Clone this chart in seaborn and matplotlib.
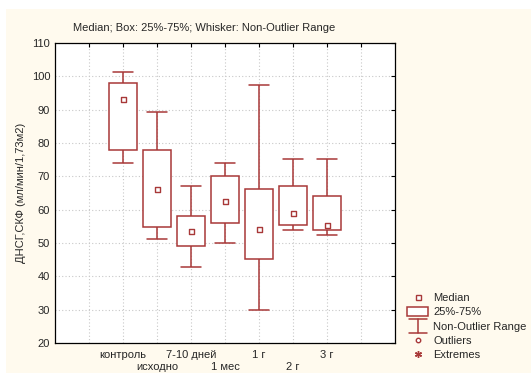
import matplotlib
matplotlib.use("Agg")
import matplotlib.pyplot as plt
import seaborn as sns
import pandas as pd
from matplotlib.lines import Line2D
from matplotlib.patches import Rectangle
from matplotlib.legend_handler import HandlerBase

# ---- data (five-number summaries) ----
categories = ["контроль", "исходно", "7-10 дней", "1 мес", "1 г", "2 г", "3 г"]
whisker_low = [74.0, 51.3, 42.9, 50.1, 30.0, 53.9, 52.3]
q1 = [78.0, 54.7, 49.1, 56.1, 45.1, 55.3, 53.9]
medians = [93.2, 66.3, 53.6, 62.7, 54.2, 59.1, 55.3]
q3 = [98.1, 78.0, 58.2, 70.1, 66.3, 67.2, 64.0]
whisker_high = [101.3, 89.3, 67.2, 74.0, 97.4, 75.3, 75.3]

title = "Median; Box: 25%-75%; Whisker: Non-Outlier Range"
ylabel = "ДНСГ,СКФ (мл/мин/1,73м2)"
legend_labels = ["Median", "25%-75%", "Non-Outlier Range", "Outliers", "Extremes"]

RED = "#A83838"
FS = 8

rows = []
for c, a, b, m, d, e in zip(categories, whisker_low, q1, medians, q3, whisker_high):
    for v in (a, b, m, d, e):
        rows.append({"group": c, "value": v})
df = pd.DataFrame(rows)
med_df = pd.DataFrame({"group": categories, "value": medians})

sns.set_style("white")
plt.rcParams["font.family"] = ["Liberation Sans", "DejaVu Sans"]

fig = plt.figure(figsize=(5.31, 3.73), dpi=100)
fig.patch.set_facecolor("white")
fig.patches.append(Rectangle((6 / 531, 0), 1, 1 - 9 / 373, transform=fig.transFigure,
                             facecolor="#FFFAEE", edgecolor="none", zorder=-10))

ax = fig.add_axes([55 / 531, 1 - 343 / 373, 340 / 531, 300 / 373])
ax.set_facecolor("white")

sns.boxplot(data=df, x="group", y="value", order=categories, whis=(0, 100),
            width=0.83, color="white", linecolor=RED, linewidth=1.1,
            medianprops={"linewidth": 0, "color": "white"},
            showfliers=False, ax=ax, capwidths=0.57)
sns.stripplot(data=med_df, x="group", y="value", order=categories, jitter=False,
              marker="s", size=3.6, color="white", edgecolor=RED, linewidth=1.0,
              ax=ax, zorder=5)

ax.set_xlim(-2, 8)
ax.set_ylim(20, 110)
ax.set_yticks(range(20, 111, 10))
ax.xaxis.remove_overlapping_locs = False
# major ticks (grid + first row of labels)
ax.set_xticks(range(-1, 8))
row1 = [""] + [c if i % 2 == 0 else "" for i, c in enumerate(categories)] + [""]
ax.set_xticklabels(row1, fontsize=FS)
# minor ticks carry the second, lower row of labels
odd_pos = [i for i in range(len(categories)) if i % 2 == 1]
ax.set_xticks(odd_pos, minor=True)
ax.set_xticklabels([categories[i] for i in odd_pos], minor=True, fontsize=FS)
ax.tick_params(axis="y", labelsize=FS)
ax.tick_params(which="major", direction="in", top=True, right=True, length=3, width=0.8, color="black")
ax.tick_params(axis="x", which="major", pad=5)
ax.tick_params(axis="x", which="minor", length=0, pad=14, bottom=True, top=False)
ax.set_xlabel("")
ax.set_ylabel(ylabel, fontsize=FS, labelpad=4)
ax.grid(True, which="major", linestyle=(0, (1, 2)), color="#C8C8C8", linewidth=0.8)
ax.set_axisbelow(True)
for s in ax.spines.values():
    s.set_color("black")
    s.set_linewidth(0.9)
    s.set_visible(True)

fig.text(73 / 531, 1 - 28 / 373, title, fontsize=FS, va="center", ha="left")


class WhiskerHandler(HandlerBase):
    def create_artists(self, legend, orig_handle, xdescent, ydescent, width, height, fontsize, trans):
        cx = width / 2 - xdescent
        cy = height / 2 - ydescent
        l1 = Line2D([cx, cx], [cy - 5, cy + 5], color=RED, lw=1.1, transform=trans)
        l2 = Line2D([cx - 6.5, cx + 6.5], [cy + 5] * 2, color=RED, lw=1.1, transform=trans)
        l3 = Line2D([cx - 6.5, cx + 6.5], [cy - 5] * 2, color=RED, lw=1.1, transform=trans)
        return [l1, l2, l3]


h_med = Line2D([], [], marker="s", ls="none", markersize=3.6, markerfacecolor="white",
               markeredgecolor=RED, markeredgewidth=1.0)
h_box = Rectangle((0, 0), 1, 1, facecolor="white", edgecolor=RED, linewidth=1.1)
h_whisk = Line2D([], [], color=RED)
h_out = Line2D([], [], marker="o", ls="none", markersize=3.2, markerfacecolor="white",
               markeredgecolor=RED, markeredgewidth=1.0)
h_ext = Line2D([], [], marker=(6, 2, 0), ls="none", markersize=5, markeredgecolor=RED,
               markeredgewidth=1.0)
fig.legend([h_med, h_box, h_whisk, h_out, h_ext], legend_labels,
           handler_map={h_whisk: WhiskerHandler()},
           loc="upper left", bbox_to_anchor=(403 / 531, 1 - 288 / 373),
           frameon=False, fontsize=FS, handlelength=1.85, handleheight=0.95,
           handletextpad=0.45, labelspacing=0.33, borderaxespad=0)

fig.savefig("out.png", dpi=100, facecolor=fig.get_facecolor())
